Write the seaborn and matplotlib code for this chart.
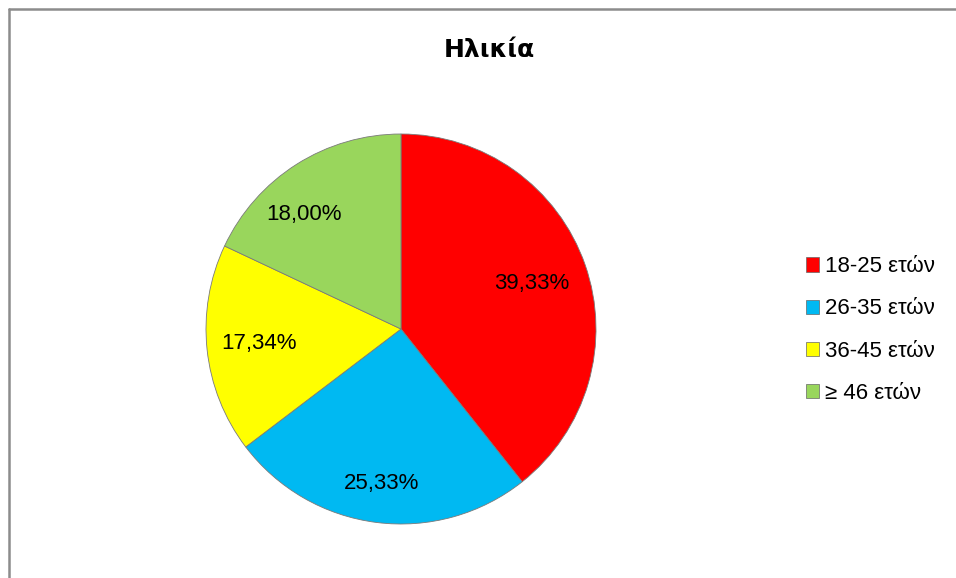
import matplotlib
matplotlib.use("Agg")
import matplotlib.pyplot as plt
import matplotlib.lines as mlines
import matplotlib.patches as mpatches
import numpy as np
import seaborn as sns

# data
categories = ["18-25 ετών", "26-35 ετών", "36-45 ετών", "≥ 46 ετών"]
shares = [39.33, 25.33, 17.34, 18.00]
colors = ["#FF0000", "#00B9F2", "#FFFF00", "#99D65C"]

sns.set_theme(style="white")
plt.rcParams['font.family'] = ['Liberation Sans', 'DejaVu Sans']
plt.rcParams['text.color'] = 'black'

fig = plt.figure(figsize=(9.56, 5.78), dpi=100)

# pie centre (401, 329) px, radius 195 px
W, H = 956, 578
cx, cy, r = 401, 329, 195
ax = fig.add_axes([(cx - r) / W, (H - cy - r) / H, 2 * r / W, 2 * r / H])

wedges, texts, autotexts = ax.pie(
    shares, colors=colors, startangle=90, counterclock=False,
    autopct=lambda p: f"{p:.2f}".replace(".", ",") + "%", pctdistance=0.76,
    wedgeprops=dict(edgecolor="#7a7a7a", linewidth=0.6),
    textprops=dict(fontsize=16, color="black"))
ax.set_xlim(-1, 1)
ax.set_ylim(-1, 1)
ax.set_aspect("equal")

# Excel-like "best fit" label placement
label_dist = [0.71, 0.80, 0.73, 0.77]
label_turn = [0, 0, 0, 8]
for w, t, d, a in zip(wedges, autotexts, label_dist, label_turn):
    ang = np.deg2rad((w.theta1 + w.theta2) / 2 + a)
    t.set_position((d * np.cos(ang), d * np.sin(ang)))

fig.text(489 / W, 1 - 50 / H, "Ηλικία", ha="center", va="center",
         fontsize=18, fontweight="bold", family="DejaVu Sans", color="black")

# legend
handles = [mpatches.Patch(facecolor=c, edgecolor="#666666", linewidth=0.5) for c in colors]
fig.legend(handles, categories, loc="center left", bbox_to_anchor=(795 / W, 1 - 330 / H),
           frameon=False, fontsize=16, handlelength=0.6, handleheight=0.6,
           handletextpad=0.25, labelspacing=0.95, borderpad=0)

# chart-area border (left and top only visible)
fig.add_artist(mlines.Line2D([8.5 / W, 8.5 / W], [0, 1 - 8.5 / H], color="#8c8c8c", lw=1.8))
fig.add_artist(mlines.Line2D([8.5 / W, 1], [1 - 8.5 / H, 1 - 8.5 / H], color="#8c8c8c", lw=1.8))

fig.savefig("out.png", dpi=100)
